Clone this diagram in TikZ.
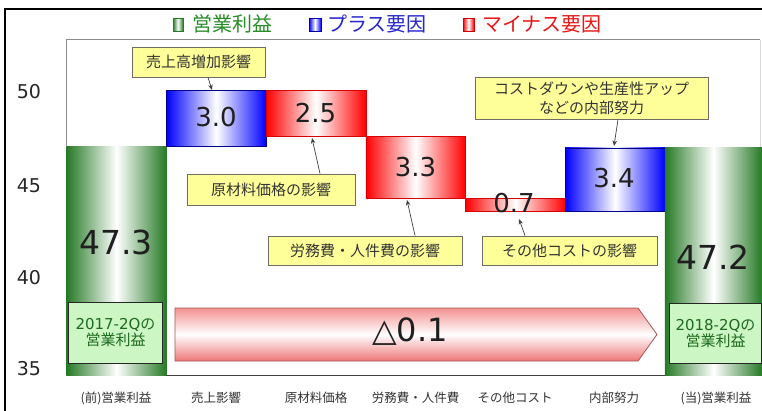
\documentclass[tikz,border=0pt]{standalone}
\usepackage{fontspec}
\setmainfont{DejaVu Sans}
\newfontfamily\jp{Noto Sans CJK JP}
\usetikzlibrary{arrows.meta}
\definecolor{gbar}{RGB}{38,122,38}
\definecolor{gtext}{RGB}{40,140,40}
\definecolor{btext}{RGB}{40,40,205}
\definecolor{rtext}{RGB}{230,25,25}
\definecolor{callfill}{RGB}{255,255,153}
\definecolor{callline}{RGB}{110,110,100}
\definecolor{lgfill}{RGB}{204,246,196}
\definecolor{boxgtext}{RGB}{30,105,30}
\definecolor{pinktop}{RGB}{243,145,145}
\definecolor{pinkbot}{RGB}{238,118,118}
\definecolor{arrline}{RGB}{165,85,85}
\begin{document}
\begin{tikzpicture}[x=1pt,y=-1pt,
  barbase/.style={inner sep=0, outer sep=0, anchor=north west, minimum width=99.7pt},
  bluebar/.style={barbase, draw=blue!55!black, line width=0.5pt, left color=blue, right color=blue, middle color=white},
  redbar/.style={barbase, draw=red!85!black, line width=0.5pt, left color=red, right color=red, middle color=white},
  greenbar/.style={barbase, left color=gbar, right color=gbar, middle color=white},
  val/.style={font=\fontsize{26}{26}\selectfont, text=black!88, inner sep=0},
  bigval/.style={font=\fontsize{33}{33}\selectfont, text=black!88, inner sep=0},
  callout/.style={draw=callline, fill=callfill, line width=0.8pt, inner sep=0, text=black!80,
    font=\jp\fontsize{15}{19}\selectfont, align=center},
  callarrow/.style={draw=black!75, line width=0.7pt, -{Stealth[length=5.5pt,width=4.5pt]}},
  cat/.style={font=\jp\fontsize{12.5}{14}\selectfont, text=black!80, inner sep=0},
  axlab/.style={font=\fontsize{19}{19}\selectfont, text=black!85, inner sep=0},
  qbox/.style={draw=black!85, fill=lgfill, line width=1pt, inner sep=0, anchor=north west,
    text=boxgtext, align=center, font=\fontsize{15}{17}\selectfont},
  legtext/.style={font=\jp\fontsize{20}{20}\selectfont, anchor=west, inner sep=0}
]
\path[use as bounding box, fill=white] (0,0) rectangle (762,410);

% outer frame
\draw[line width=1.4pt, black] (5,415) -- (5,9) -- (770,9);

% legend
\shade[left color=gbar, right color=gbar, middle color=white, draw=gbar, line width=0.6pt] (173,18) rectangle (183,31);
\node[legtext, text=gtext] (lg1) at (192,24) {営業利益};
\shade[left color=blue, right color=blue, middle color=white, draw=blue!70!black, line width=0.6pt] (309,18) rectangle (321,31);
\node[legtext, text=btext] (lg2) at (327,24) {プラス要因};
\shade[left color=red, right color=red, middle color=white, draw=red!80!black, line width=0.6pt] (463,18) rectangle (474,31);
\node[legtext, text=rtext] (lg3) at (482,24) {マイナス要因};

% plot area
\draw[black!45, line width=0.8pt] (66.7,375.6) -- (66.7,39.5) -- (760,39.5);
\draw[black!15, line width=0.8pt] (760,39.5) -- (760,148);
\draw[black!75, line width=0.9pt] (66.7,375.6) -- (762,375.6);

% axis labels
\node[axlab] (y50) at (29,92) {50};
\node[axlab] (y45) at (29,186) {45};
\node[axlab] (y40) at (29,278) {40};
\node[axlab] (y35) at (29,369) {35};

% bars
\node[greenbar, minimum height=229.6pt] (g1) at (66.7,146) {};
\node[bluebar, minimum height=56pt] (b1) at (166.4,90) {};
\node[redbar, minimum height=46.6pt] (b2) at (266.1,90) {};
\node[redbar, minimum height=61.6pt] (b3) at (365.8,136.6) {};
\node[redbar, minimum height=13.1pt] (b4) at (465.5,198.2) {};
\node[bluebar, minimum height=63.5pt] (b5) at (565.2,147.8) {};
\node[greenbar, minimum width=97.1pt, minimum height=227.8pt] (g2) at (664.9,147.8) {};

% values
\node[bigval] (v0) at (116,242) {47.3};
\node[val] (v1) at (216,117) {3.0};
\node[val] (v2) at (315.5,113) {2.5};
\node[val] (v3) at (415.5,167) {3.3};
\node[val] (v4) at (514,203) {0.7};
\node[val] (v5) at (614,178) {3.4};
\node[bigval] (v6) at (713,257) {47.2};

% year boxes
\node[qbox, minimum width=94pt, minimum height=61pt] (q1) at (68,302) {2017-2Q{\jp の}\\[-1pt]{\jp 営業利益}};
\node[qbox, minimum width=92pt, minimum height=60pt] (q2) at (669,303) {2018-2Q{\jp の}\\[-1pt]{\jp 営業利益}};

% big arrow
\path[draw=arrline, line width=0.8pt, top color=pinktop, bottom color=pinkbot, middle color=white]
  (175,308) -- (638,308) -- (657,334.5) -- (638,361) -- (175,361) -- cycle;
\node[font=\fontsize{32}{32}\selectfont, text=black!88, inner sep=0] (delta) at (410,332) {△0.1};

% callouts
\node[callout, minimum width=133pt, minimum height=30pt] (c1) at (198.5,62) {売上高増加影響};
\node[callout, minimum width=168pt, minimum height=31pt] (c2) at (271,189.5) {原材料価格の影響};
\node[callout, minimum width=194pt, minimum height=29pt] (c3) at (365,250.5) {労務費・人件費の影響};
\node[callout, minimum width=175pt, minimum height=29pt] (c4) at (569.5,250.5) {その他コストの影響};
\node[callout, minimum width=233pt, minimum height=42pt] (c5) at (591.5,98) {コストダウンや生産性アップ\\などの内部努力};

\coordinate (t1) at (212,90);
\coordinate (t2) at (312,138);
\coordinate (t3) at (407,200);
\coordinate (t4) at (519,219);
\coordinate (t5) at (614,146);
\draw[callarrow] ([xshift=9.5pt]c1.south) -- (t1);
\draw[callarrow] ([xshift=49pt]c2.north) -- (t2);
\draw[callarrow] ([xshift=50pt]c3.north) -- (t3);
\draw[callarrow] ([xshift=-44.5pt]c4.north) -- (t4);
\draw[callarrow] ([xshift=26.5pt]c5.south) -- (t5);

% category labels
\node[cat] (k1) at (116,398) {(前)営業利益};
\node[cat] (k2) at (216,398) {売上影響};
\node[cat] (k3) at (316,398) {原材料価格};
\node[cat] (k4) at (415.5,398) {労務費・人件費};
\node[cat] (k5) at (515,398) {その他コスト};
\node[cat] (k6) at (614,398) {内部努力};
\node[cat] (k7) at (716,398) {(当)営業利益};
\end{tikzpicture}
\end{document}
